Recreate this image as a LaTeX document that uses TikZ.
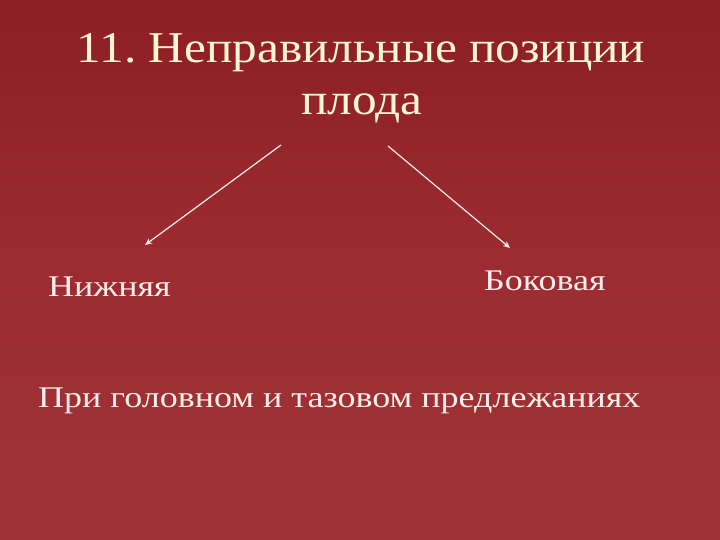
\documentclass[tikz,border=0pt]{standalone}
\usepackage{fontspec}
\setmainfont{Liberation Serif}
\usetikzlibrary{arrows.meta}
\definecolor{bgtop}{HTML}{8C1E24}
\definecolor{bgmid}{HTML}{9C2C31}
\definecolor{bgbot}{HTML}{A03236}
\definecolor{titlecol}{HTML}{FFF6D2}
\definecolor{textcol}{HTML}{FBEEEA}
\tikzset{
  titletext/.style={text=titlecol, inner sep=0pt, font=\fontsize{44}{50}\selectfont},
  bodytext/.style={text=textcol, inner sep=0pt, font=\fontsize{30}{34}\selectfont},
  arrowline/.style={draw=textcol, line width=1.2pt, -{Stealth[length=7pt,width=6pt]}}
}
\frenchspacing
\begin{document}
\begin{tikzpicture}[x=1pt,y=-1pt]
\shade[top color=bgtop, bottom color=bgbot, middle color=bgmid] (0,0) rectangle (720,540);
\useasboundingbox (0,0) rectangle (720,540);
\node[titletext, anchor=base] (t1) at (361,63) {\scalebox{1.12}[1]{11. Неправильные позиции}};
\node[titletext, anchor=base] (t2) at (362,115) {\scalebox{1.12}[1]{плода}};
\coordinate (s1) at (281,145);
\coordinate (s2) at (388,146);
\node[bodytext, anchor=base west] (low) at (48,296) {\scalebox{1.2}[1]{Нижняя}};
\node[bodytext, anchor=base west] (side) at (484,290) {\scalebox{1.2}[1]{Боковая}};
\coordinate (e1) at (145,245);
\coordinate (e2) at (510,248);
\draw[arrowline] (s1) -- (e1);
\draw[arrowline] (s2) -- (e2);
\node[bodytext, anchor=base west] (both) at (38,407) {\scalebox{1.2}[1]{При головном и тазовом предлежаниях}};
\end{tikzpicture}
\end{document}
